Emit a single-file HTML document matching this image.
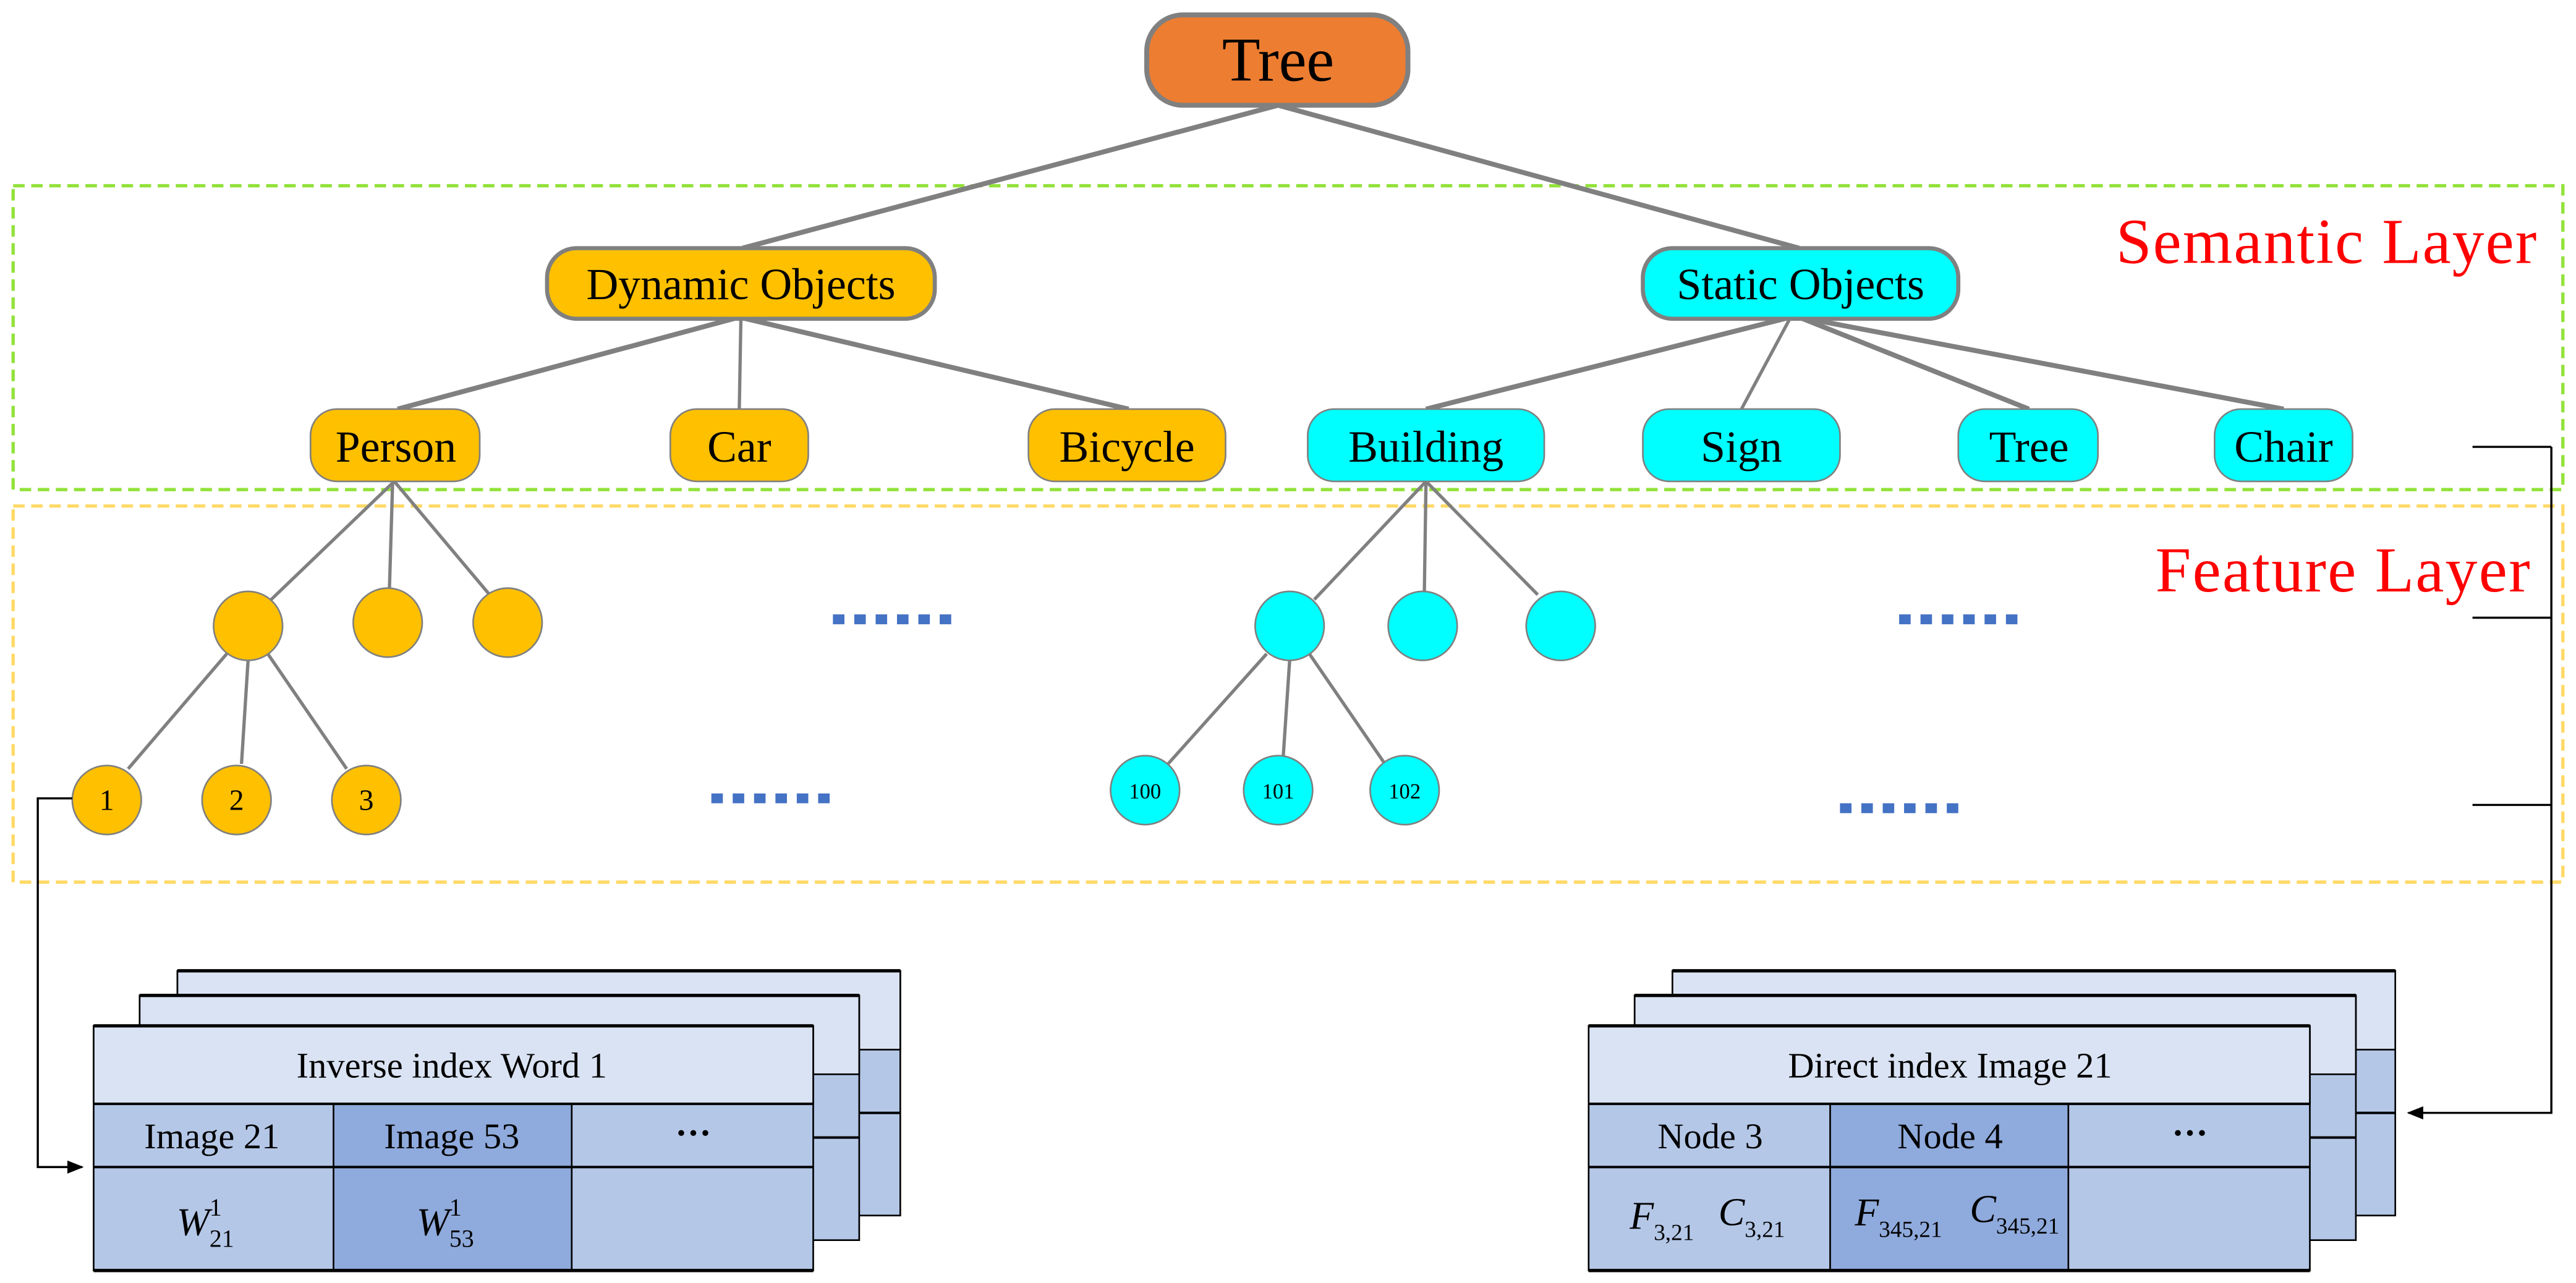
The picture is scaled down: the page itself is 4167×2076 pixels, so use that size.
<!DOCTYPE html>
<html><head><meta charset="utf-8"><style>
html,body{margin:0;padding:0;background:#fff}
svg{display:block}
text{font-family:"Liberation Serif",serif}
</style></head><body>
<svg width="4167" height="2076" viewBox="0 0 1568 781" xmlns="http://www.w3.org/2000/svg">
<defs>
<marker id="ah" markerWidth="10" markerHeight="8" refX="9" refY="4" orient="auto" markerUnits="userSpaceOnUse">
<path d="M0,0 L10,4 L0,8 z" fill="#000"/></marker>
</defs>
<rect x="8" y="113" width="1552" height="185" fill="none" stroke="#92E23A" stroke-width="2" stroke-dasharray="7,4"/>
<rect x="8" y="308" width="1552" height="229" fill="none" stroke="#FFD966" stroke-width="2" stroke-dasharray="7,4"/>
<text x="1416" y="160" font-size="39" fill="#FF0000" text-anchor="middle" textLength="256">Semantic Layer</text>
<text x="1426" y="360" font-size="39" fill="#FF0000" text-anchor="middle" textLength="228">Feature Layer</text>
<g stroke="#808080" stroke-width="3" fill="none">
<line x1="778" y1="64" x2="452" y2="151"/>
<line x1="778" y1="64" x2="1095" y2="151"/>
<line x1="450" y1="193" x2="242" y2="249"/>
<line x1="450" y1="193" x2="687" y2="249"/>
<line x1="1090" y1="193" x2="868" y2="249"/>
<line x1="1095" y1="193" x2="1390" y2="249"/>
<line x1="1095" y1="193" x2="1235" y2="249"/>
</g>
<g stroke="#808080" stroke-width="2" fill="none">
<line x1="451" y1="193" x2="450" y2="249"/>
<line x1="1090" y1="193" x2="1060" y2="249"/>
<line x1="240" y1="293" x2="165" y2="365"/>
<line x1="239" y1="293" x2="237" y2="360"/>
<line x1="240" y1="293" x2="298" y2="362"/>
<line x1="868" y1="293" x2="800" y2="365"/>
<line x1="868" y1="293" x2="867" y2="360"/>
<line x1="868" y1="293" x2="936" y2="362"/>
<line x1="138" y1="398" x2="78" y2="468"/>
<line x1="151" y1="402" x2="147" y2="465"/>
<line x1="163" y1="398" x2="211" y2="468"/>
<line x1="771" y1="398" x2="711" y2="465"/>
<line x1="785" y1="402" x2="781" y2="462"/>
<line x1="797" y1="398" x2="843" y2="465"/>
</g>
<rect x="698" y="9" width="159" height="55" rx="22" fill="#ED7D31" stroke="#808080" stroke-width="3"/>
<text x="778" y="49" font-size="38" text-anchor="middle">Tree</text>
<g stroke="#808080" stroke-width="2.5">
<rect x="333" y="151" width="236" height="43" rx="18" fill="#FFC000"/>
<rect x="1000" y="151" width="192" height="43" rx="18" fill="#00FFFF"/>
</g>
<g font-size="27" text-anchor="middle">
<text x="451" y="182">Dynamic Objects</text>
<text x="1096" y="182">Static Objects</text>
</g>
<g stroke="#808080" stroke-width="1">
<rect x="189" y="249" width="103" height="44" rx="16" fill="#FFC000"/>
<rect x="408" y="249" width="84" height="44" rx="16" fill="#FFC000"/>
<rect x="626" y="249" width="120" height="44" rx="16" fill="#FFC000"/>
<rect x="796" y="249" width="144" height="44" rx="16" fill="#00FFFF"/>
<rect x="1000" y="249" width="120" height="44" rx="16" fill="#00FFFF"/>
<rect x="1192" y="249" width="85" height="44" rx="16" fill="#00FFFF"/>
<rect x="1348" y="249" width="84" height="44" rx="16" fill="#00FFFF"/>
</g>
<g font-size="27" text-anchor="middle">
<text x="241" y="281">Person</text>
<text x="450" y="281">Car</text>
<text x="686" y="281">Bicycle</text>
<text x="868" y="281">Building</text>
<text x="1060" y="281">Sign</text>
<text x="1235" y="281">Tree</text>
<text x="1390" y="281">Chair</text>
</g>
<g stroke="#808080" stroke-width="1">
<circle cx="151" cy="381" r="21" fill="#FFC000"/>
<circle cx="236" cy="379" r="21" fill="#FFC000"/>
<circle cx="309" cy="379" r="21" fill="#FFC000"/>
<circle cx="785" cy="381" r="21" fill="#00FFFF"/>
<circle cx="866" cy="381" r="21" fill="#00FFFF"/>
<circle cx="950" cy="381" r="21" fill="#00FFFF"/>
<circle cx="65" cy="487" r="21" fill="#FFC000"/>
<circle cx="144" cy="487" r="21" fill="#FFC000"/>
<circle cx="223" cy="487" r="21" fill="#FFC000"/>
<circle cx="697" cy="481" r="21" fill="#00FFFF"/>
<circle cx="778" cy="481" r="21" fill="#00FFFF"/>
<circle cx="855" cy="481" r="21" fill="#00FFFF"/>
</g>
<g font-size="18" text-anchor="middle">
<text x="65" y="493">1</text><text x="144" y="493">2</text><text x="223" y="493">3</text>
</g>
<g font-size="13" text-anchor="middle">
<text x="697" y="486">100</text><text x="778" y="486">101</text><text x="855" y="486">102</text>
</g>
<g stroke="#4472C4" stroke-width="6" stroke-dasharray="7,6">
<line x1="507" y1="377" x2="585" y2="377"/>
<line x1="1156" y1="377" x2="1234" y2="377"/>
<line x1="433" y1="486" x2="511" y2="486"/>
<line x1="1120" y1="492" x2="1198" y2="492"/>
</g>
<g stroke="#000" stroke-width="1.3" fill="none">
<polyline points="44,486 23,486 23,710.5 50,710.5" marker-end="url(#ah)"/>
<line x1="1505" y1="272" x2="1553" y2="272"/>
<line x1="1505" y1="376" x2="1553" y2="376"/>
<line x1="1505" y1="490" x2="1553" y2="490"/>
<polyline points="1553,272 1553,677.5 1466,677.5" marker-end="url(#ah)"/>
</g>
<g>
<rect x="108" y="591" width="440" height="149" fill="#B4C7E7" stroke="#000" stroke-width="1"/>
<rect x="108" y="591" width="440" height="48" fill="#DAE3F3" stroke="#000" stroke-width="1"/>
<line x1="108" y1="591" x2="548" y2="591" stroke="#000" stroke-width="2"/>
<line x1="108" y1="677.5" x2="548" y2="677.5" stroke="#000" stroke-width="1.5"/>
<rect x="85" y="606" width="438" height="149" fill="#B4C7E7" stroke="#000" stroke-width="1"/>
<rect x="85" y="606" width="438" height="48" fill="#DAE3F3" stroke="#000" stroke-width="1"/>
<line x1="85" y1="606" x2="523" y2="606" stroke="#000" stroke-width="2"/>
<line x1="85" y1="692.5" x2="523" y2="692.5" stroke="#000" stroke-width="1.5"/>
<rect x="57" y="624.5" width="438" height="149" fill="#B4C7E7" stroke="#000" stroke-width="1"/>
<rect x="57" y="624.5" width="438" height="47.5" fill="#DAE3F3" stroke="#000" stroke-width="1"/>
<rect x="203" y="672" width="145" height="101.5" fill="#8FAADC" stroke="#000" stroke-width="1"/>
<line x1="57" y1="624.5" x2="495" y2="624.5" stroke="#000" stroke-width="2"/>
<line x1="57" y1="672" x2="495" y2="672" stroke="#000" stroke-width="1.5"/>
<line x1="57" y1="710.5" x2="495" y2="710.5" stroke="#000" stroke-width="1.5"/>
<line x1="57" y1="773.5" x2="495" y2="773.5" stroke="#000" stroke-width="2"/>
</g>
<g font-size="22" text-anchor="middle">
<text x="275" y="656">Inverse index Word 1</text>
<text x="129" y="699">Image 21</text>
<text x="275" y="699">Image 53</text>
<text x="422" y="697" font-weight="bold">···</text>
</g>
<g font-size="24" font-style="italic" text-anchor="middle">
<text x="125" y="752">W<tspan font-size="15" font-style="normal" dy="7">21</tspan><tspan font-size="15" font-style="normal" dx="-15" dy="-19">1</tspan></text>
<text x="271" y="752">W<tspan font-size="15" font-style="normal" dy="7">53</tspan><tspan font-size="15" font-style="normal" dx="-15" dy="-19">1</tspan></text>
</g>
<g transform="translate(910,0)">
<rect x="108" y="591" width="440" height="149" fill="#B4C7E7" stroke="#000" stroke-width="1"/>
<rect x="108" y="591" width="440" height="48" fill="#DAE3F3" stroke="#000" stroke-width="1"/>
<line x1="108" y1="591" x2="548" y2="591" stroke="#000" stroke-width="2"/>
<line x1="108" y1="677.5" x2="548" y2="677.5" stroke="#000" stroke-width="1.5"/>
<rect x="85" y="606" width="439" height="149" fill="#B4C7E7" stroke="#000" stroke-width="1"/>
<rect x="85" y="606" width="439" height="48" fill="#DAE3F3" stroke="#000" stroke-width="1"/>
<line x1="85" y1="606" x2="524" y2="606" stroke="#000" stroke-width="2"/>
<line x1="85" y1="692.5" x2="524" y2="692.5" stroke="#000" stroke-width="1.5"/>
<rect x="57" y="624.5" width="439" height="149" fill="#B4C7E7" stroke="#000" stroke-width="1"/>
<rect x="57" y="624.5" width="439" height="47.5" fill="#DAE3F3" stroke="#000" stroke-width="1"/>
<rect x="204" y="672" width="145" height="101.5" fill="#8FAADC" stroke="#000" stroke-width="1"/>
<line x1="57" y1="624.5" x2="496" y2="624.5" stroke="#000" stroke-width="2"/>
<line x1="57" y1="672" x2="496" y2="672" stroke="#000" stroke-width="1.5"/>
<line x1="57" y1="710.5" x2="496" y2="710.5" stroke="#000" stroke-width="1.5"/>
<line x1="57" y1="773.5" x2="496" y2="773.5" stroke="#000" stroke-width="2"/>
</g>
<g font-size="22" text-anchor="middle">
<text x="1187" y="656">Direct index Image 21</text>
<text x="1041" y="699">Node 3</text>
<text x="1187" y="699">Node 4</text>
<text x="1333" y="697" font-weight="bold">···</text>
</g>
<g font-size="24" font-style="italic">
<text x="992" y="748">F<tspan font-size="14" font-style="normal" dy="7">3,21</tspan></text>
<text x="1046" y="746">C<tspan font-size="14" font-style="normal" dy="7">3,21</tspan></text>
<text x="1129" y="746">F<tspan font-size="14" font-style="normal" dy="7">345,21</tspan></text>
<text x="1199" y="744">C<tspan font-size="14" font-style="normal" dy="7">345,21</tspan></text>
</g>
</svg>
</body></html>
